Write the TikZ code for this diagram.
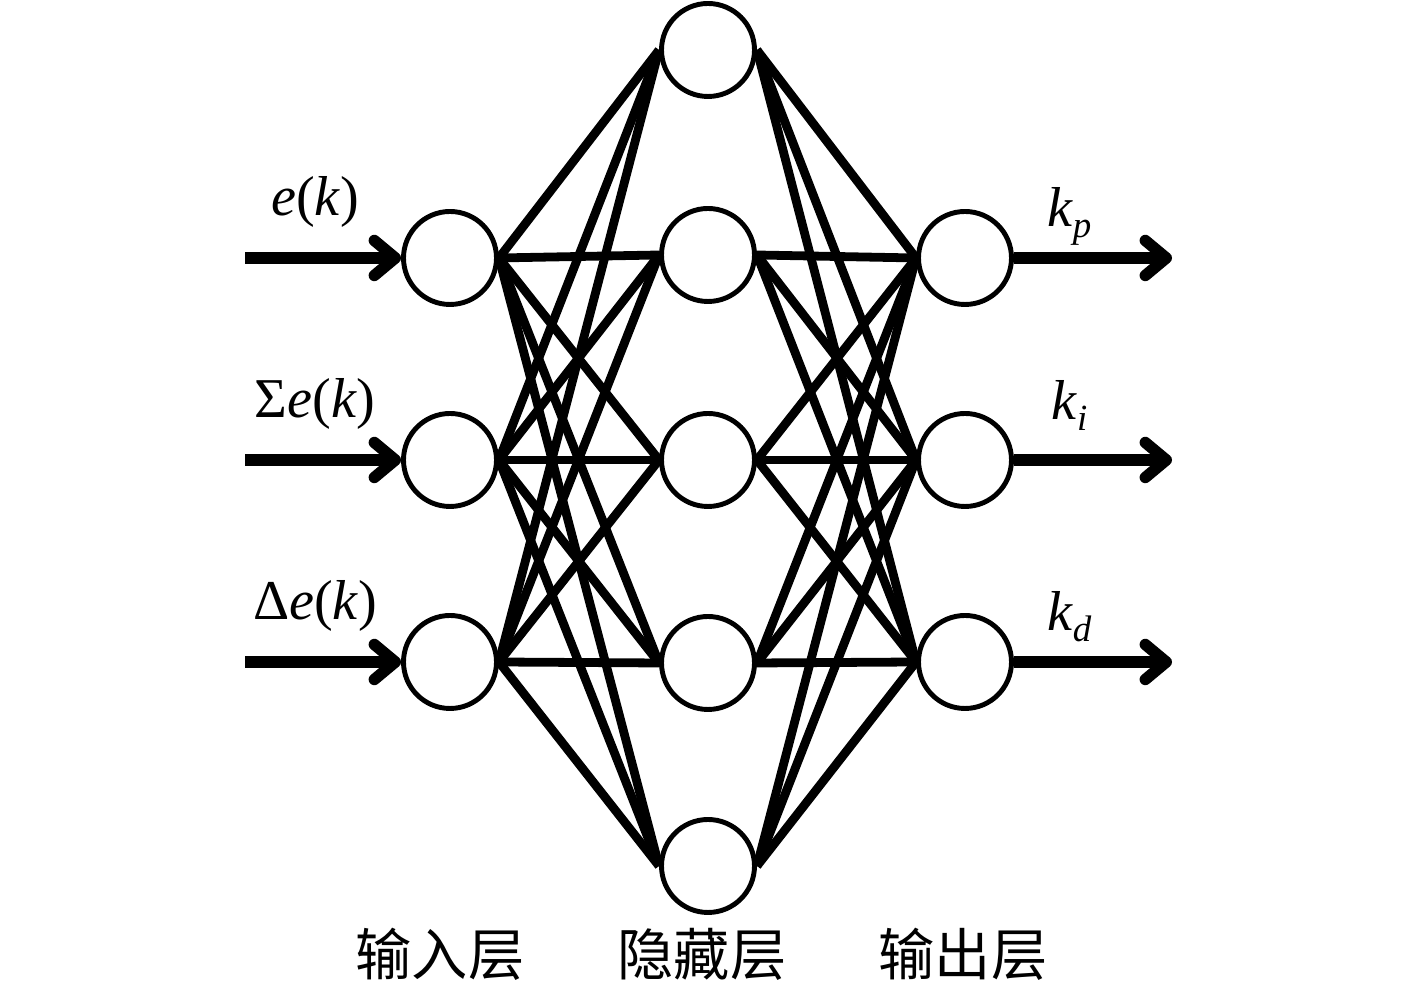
\documentclass[tikz,border=0pt]{standalone}
\usepackage{fontspec}
\setmainfont{Liberation Serif}
\newfontfamily\cjk{Noto Sans CJK SC}
\usetikzlibrary{arrows.meta,positioning}

% 下标 (文本模式, Times 风格)
\newcommand{\xiabiao}[1]{\raisebox{-0.4ex}{\fontsize{21}{24}\selectfont\textit{#1}}}

\begin{document}
\begin{tikzpicture}[x=1.0cm, y=1.0cm, >={Straight Barb[round,length=0.42cm,width=0.7cm]},
	every node/.style={font=\fontsize{32}{38}\selectfont},
	neuron/.style={circle, draw, line width=2.8pt, minimum size=1.86cm, inner sep=0pt},
	link/.style={line width=5pt},
	io/.style={line width=6.5pt, ->},
	klabel/.style={anchor=base, inner sep=0pt},
	layer/.style={font=\cjk\fontsize{32}{38}\selectfont}]
	\useasboundingbox (0,0) rectangle (28.34,19.7);
	
	% 1. 输入层、输出层神经元 (左右各三个)
	\foreach \i/\y in {1/14.54, 2/10.5, 3/6.46} {
		\node[neuron] (in\i) at (9.0,\y) {};
		\node[neuron] (out\i) at (19.3,\y) {};
		\coordinate (src\i) at (4.9,\y);
		\coordinate (dst\i) at (23.44,\y);
	}
	
	% 2. 隐藏层神经元 (五个)
	\foreach \j/\y in {1/18.7, 2/14.6, 3/10.5, 4/6.44, 5/2.38}
		\node[neuron] (hid\j) at (14.16,\y) {};
	
	% 3. 全连接
	\foreach \i in {1,2,3}
		\foreach \j in {1,...,5} {
			\draw[link] (in\i.east) -- (hid\j.west);
			\draw[link] (hid\j.east) -- (out\i.west);
		}
	
	% 4. 输入箭头与标签
	\draw[io] (src1) -- node[pos=0.45, above=0.5cm, inner sep=0pt] (ein) {\textit{e}(\textit{k})} (in1);
	\draw[io] (src2) -- node[pos=0.45, above=0.5cm, inner sep=0pt] (sein) {Σ\textit{e}(\textit{k})} (in2);
	\draw[io] (src3) -- node[pos=0.45, above=0.5cm, inner sep=0pt] (dein) {Δ\textit{e}(\textit{k})} (in3);
	
	% 5. 输出箭头与标签
	\draw[io] (out1) -- node[pos=0.35, klabel, yshift=0.62cm] (kp) {\textit{k}\xiabiao{p}} (dst1);
	\draw[io] (out2) -- node[pos=0.35, klabel, yshift=0.8cm] (ki) {\textit{k}\xiabiao{i}} (dst2);
	\draw[io] (out3) -- node[pos=0.35, klabel, yshift=0.62cm] (kd) {\textit{k}\xiabiao{d}} (dst3);
	
	% 6. 层名称
	\node[layer] (tin) at (8.8,0.62) {输入层};
	\node[layer] (thid) at (14.04,0.62) {隐藏层};
	\node[layer] (tout) at (19.26,0.62) {输出层};
\end{tikzpicture}
\end{document}
